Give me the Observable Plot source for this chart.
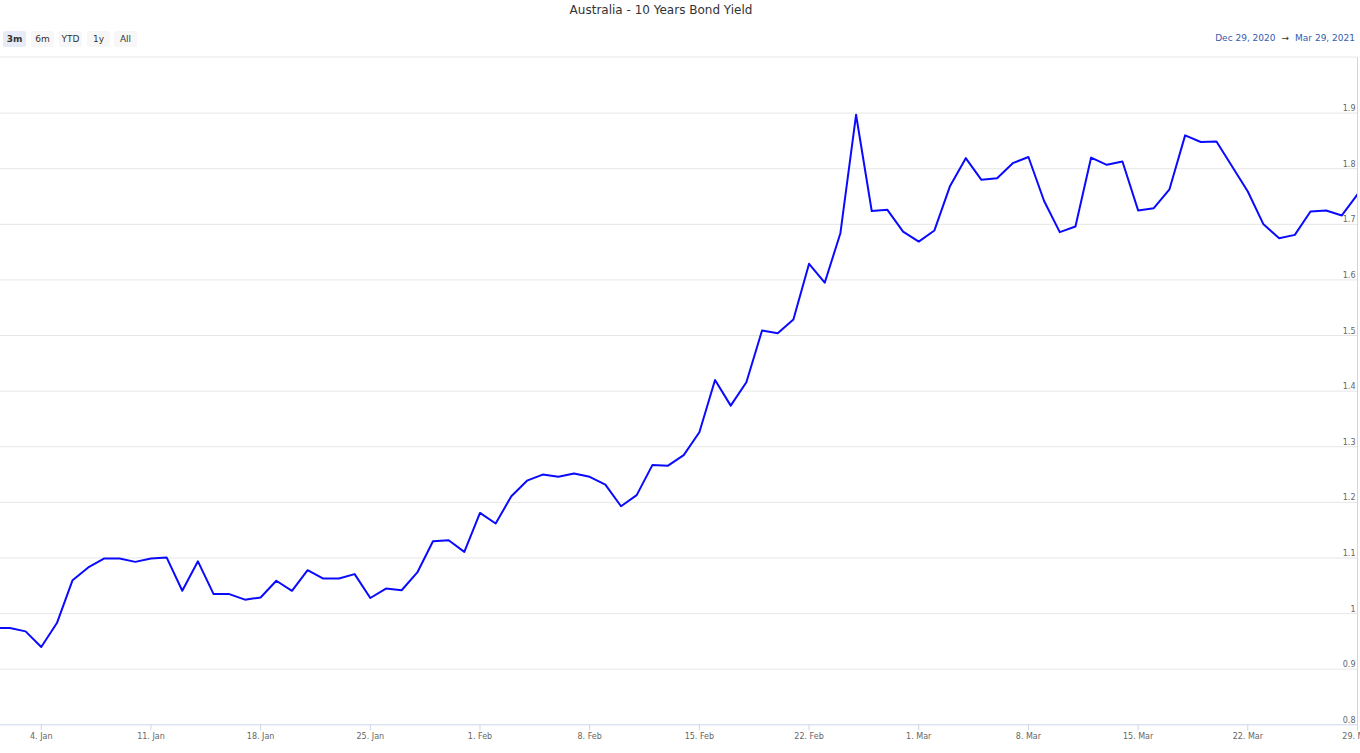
<!DOCTYPE html>
<html>
<head>
<meta charset="utf-8">
<script src="https://cdn.jsdelivr.net/npm/d3@7"></script>
<script src="https://cdn.jsdelivr.net/npm/@observablehq/plot@0.6"></script>
<style>
  body { margin: 0; background: #fff; font-family: "DejaVu Sans", sans-serif; }
  #header { position: relative; width: 1360px; height: 56px; }
  #title { position: absolute; left: 0; width: 1322px; top: 3px; text-align: center; font-size: 12px; color: #333; line-height: 14px; }
  .btn { position: absolute; top: 31px; width: 23px; height: 16px; line-height: 16px; font-size: 9px; text-align: center; color: #333; background: #f7f7f7; border-radius: 2px; }
  .btn.sel { background: #e6ebf5; font-weight: bold; }
  #range { position: absolute; right: 5px; top: 31px; line-height: 14px; font-size: 9px; color: #335cad; white-space: pre; }
  #range .arrow { color: #333; margin: 0 6px; }
  #chart { display: block; }
</style>
</head>
<body>
<div id="header">
  <div id="title"></div>
  <div id="buttons"></div>
  <div id="range"></div>
</div>
<div id="chart"></div>
<script>
const chartTitle = "Australia - 10 Years Bond Yield";
const rangeButtons = ["3m", "6m", "YTD", "1y", "All"];
const selectedButton = "3m";
const rangeFrom = "Dec 29, 2020";
const rangeTo = "Mar 29, 2021";

const dates = [
  "2021-01-01","2021-01-02","2021-01-03","2021-01-04","2021-01-05","2021-01-06","2021-01-07","2021-01-08","2021-01-09","2021-01-10",
  "2021-01-11","2021-01-12","2021-01-13","2021-01-14","2021-01-15","2021-01-16","2021-01-17","2021-01-18","2021-01-19","2021-01-20",
  "2021-01-21","2021-01-22","2021-01-23","2021-01-24","2021-01-25","2021-01-26","2021-01-27","2021-01-28","2021-01-29","2021-01-30",
  "2021-01-31","2021-02-01","2021-02-02","2021-02-03","2021-02-04","2021-02-05","2021-02-06","2021-02-07","2021-02-08","2021-02-09",
  "2021-02-10","2021-02-11","2021-02-12","2021-02-13","2021-02-14","2021-02-15","2021-02-16","2021-02-17","2021-02-18","2021-02-19",
  "2021-02-20","2021-02-21","2021-02-22","2021-02-23","2021-02-24","2021-02-25","2021-02-26","2021-02-27","2021-02-28","2021-03-01",
  "2021-03-02","2021-03-03","2021-03-04","2021-03-05","2021-03-06","2021-03-07","2021-03-08","2021-03-09","2021-03-10","2021-03-11",
  "2021-03-12","2021-03-13","2021-03-14","2021-03-15","2021-03-16","2021-03-17","2021-03-18","2021-03-19","2021-03-20","2021-03-21",
  "2021-03-22","2021-03-23","2021-03-24","2021-03-25","2021-03-26","2021-03-27","2021-03-28","2021-03-29"
];
const yields = [
  0.974, 0.974, 0.968, 0.940, 0.983, 1.060, 1.083, 1.099, 1.099, 1.093,
  1.099, 1.101, 1.041, 1.094, 1.035, 1.035, 1.025, 1.029, 1.059, 1.041,
  1.078, 1.063, 1.063, 1.071, 1.028, 1.045, 1.042, 1.074, 1.130, 1.132,
  1.111, 1.181, 1.162, 1.211, 1.239, 1.250, 1.246, 1.252, 1.246, 1.232,
  1.193, 1.213, 1.267, 1.266, 1.285, 1.326, 1.420, 1.374, 1.416, 1.509,
  1.504, 1.529, 1.629, 1.595, 1.684, 1.897, 1.724, 1.726, 1.687, 1.669,
  1.689, 1.769, 1.819, 1.780, 1.783, 1.810, 1.821, 1.742, 1.686, 1.696,
  1.820, 1.807, 1.813, 1.725, 1.729, 1.763, 1.860, 1.848, 1.849, 1.804,
  1.759, 1.700, 1.675, 1.681, 1.723, 1.725, 1.716, 1.754
];
const xTickDates = ["2021-01-04","2021-01-11","2021-01-18","2021-01-25","2021-02-01","2021-02-08","2021-02-15","2021-02-22","2021-03-01","2021-03-08","2021-03-15","2021-03-22","2021-03-29"];
const yTickValues = [0.8, 0.9, 1.0, 1.1, 1.2, 1.3, 1.4, 1.5, 1.6, 1.7, 1.8, 1.9];
const xViewStart = "2021-01-01T09:36:00Z";
const xViewEnd = "2021-03-29T00:00:00Z";
const yDomain = [0.8, 2.0];

// header
document.getElementById("title").textContent = chartTitle;
const btnLefts = [3, 31, 59, 87, 114];
const bdiv = document.getElementById("buttons");
rangeButtons.forEach((b, i) => {
  const el = document.createElement("div");
  el.className = "btn" + (b === selectedButton ? " sel" : "");
  el.style.left = btnLefts[i] + "px";
  el.textContent = b;
  bdiv.appendChild(el);
});
const r = document.getElementById("range");
r.innerHTML = "";
const s1 = document.createElement("span"); s1.textContent = rangeFrom;
const s2 = document.createElement("span"); s2.className = "arrow"; s2.textContent = "→";
const s3 = document.createElement("span"); s3.textContent = rangeTo;
r.append(s1, s2, s3);

const data = dates.map((d, i) => ({date: new Date(d + "T00:00:00Z"), value: yields[i]}));
const xTicks = xTickDates.map(d => new Date(d + "T00:00:00Z"));
const fmtX = d3.utcFormat("%-d. %b");
const fmtY = d => String(+d.toFixed(1));
const xStart = new Date(xViewStart), xEnd = new Date(xViewEnd);

const chart = Plot.plot({
  width: 1360,
  height: 697,
  marginTop: 1,
  marginBottom: 28.7,
  marginLeft: 0,
  marginRight: 3,
  x: {type: "utc", domain: [xStart, xEnd]},
  y: {domain: yDomain},
  style: {fontFamily: "DejaVu Sans, sans-serif", fontSize: "8px", color: "#666", background: "white", overflow: "hidden"},
  marks: [
    Plot.gridY(yTickValues.slice(1), {stroke: "#e6e6e6", strokeOpacity: 1, strokeWidth: 1}),
    Plot.ruleY([yDomain[1]], {stroke: "#e6e6e6", strokeOpacity: 1, dy: -0.5}),
    Plot.ruleY([yDomain[0]], {stroke: "#ccd6eb", strokeOpacity: 1}),
    Plot.ruleX([xEnd], {y1: yDomain[0], y2: yDomain[1], stroke: "#ccd6eb", strokeOpacity: 1, dy: 0}),
    Plot.axisX({ticks: xTicks, tickFormat: fmtX, tickSize: 6, tickPadding: 3, stroke: "#ccd6eb", strokeOpacity: 1, fill: "#666", label: null}),
    Plot.axisY({anchor: "right", ticks: yTickValues, tickFormat: fmtY, tickSize: 0, tickPadding: -2, textAnchor: "end", dy: -4.5, fill: "#666", label: null}),
    Plot.line(data, {x: "date", y: "value", stroke: "#0a0aff", strokeWidth: 2, clip: true})
  ]
});
document.getElementById("chart").appendChild(chart);
</script>
</body>
</html>
